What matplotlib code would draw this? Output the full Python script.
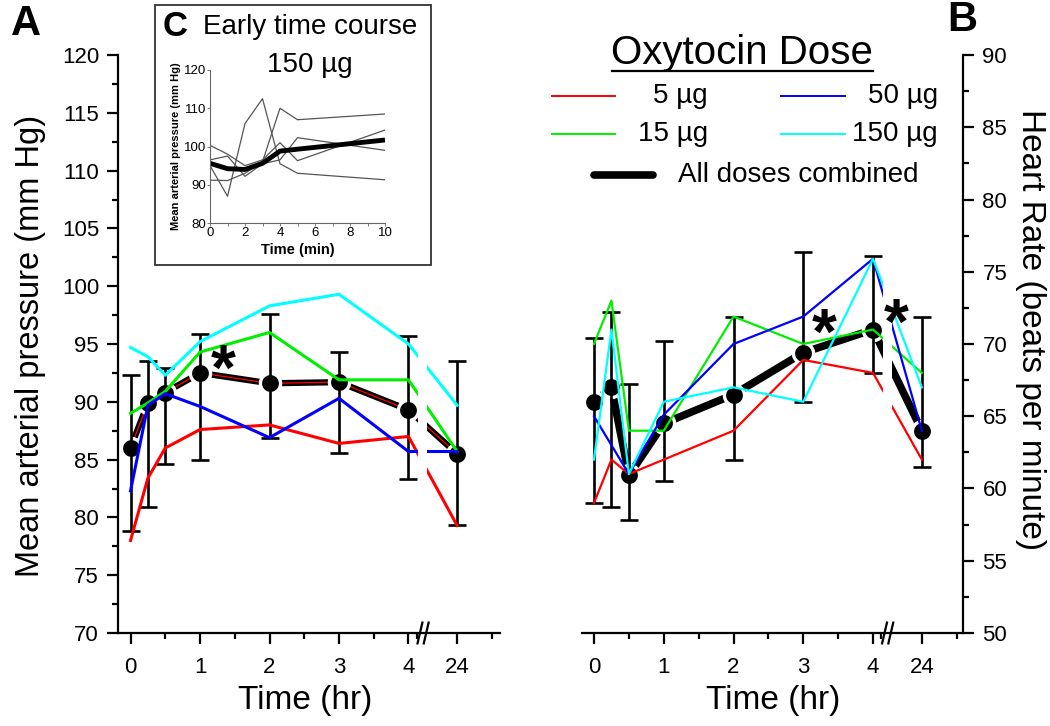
import matplotlib
matplotlib.use('Agg')
import matplotlib.pyplot as plt
from matplotlib.lines import Line2D
from matplotlib.patches import Rectangle
import numpy as np

plt.rcParams['font.family'] = ['Liberation Sans', 'DejaVu Sans']

# ---------------- data ----------------
time_hr = [0, 0.25, 0.5, 1, 2, 3, 4, 24]
xtick_hr = [0, 1, 2, 3, 4, 24]
dose_labels = ['5 µg', '15 µg', '50 µg', '150 µg']
dose_colors = ['#ff0000', '#00ee00', '#0000ff', '#00ffff']

# Mean arterial pressure (mm Hg)
map_5 = [78.0, 83.4, 86.0, 87.6, 88.0, 86.4, 87.0, 79.3]
map_15 = [89.0, 89.9, 90.9, 94.3, 96.0, 91.9, 91.9, 85.7]
map_50 = [82.3, 89.7, 90.7, 89.6, 86.9, 90.3, 85.7, 85.7]
map_150 = [94.7, 93.9, 92.3, 95.2, 98.3, 99.3, 95.0, 89.7]
map_all = [86.0, 89.9, 90.8, 92.5, 91.6, 91.7, 89.3, 85.5]
map_lo = [78.8, 80.9, 84.6, 85.0, 86.9, 85.6, 83.3, 79.3]
map_hi = [92.3, 93.5, 92.9, 95.9, 97.6, 94.3, 95.7, 93.5]

# Heart rate (beats per minute)
hr_5 = [59.0, 62.0, 61.0, 62.0, 64.0, 68.9, 68.0, 62.0]
hr_15 = [70.0, 73.0, 64.0, 64.0, 71.9, 70.0, 71.0, 68.0]
hr_50 = [65.0, 63.0, 61.0, 65.1, 70.0, 71.9, 75.9, 64.0]
hr_150 = [62.0, 71.0, 61.0, 66.0, 67.0, 66.0, 75.9, 67.0]
hr_all = [66.0, 67.0, 60.9, 64.5, 66.5, 69.4, 71.0, 64.0]
hr_lo = [59.0, 58.75, 57.8, 60.5, 62.0, 66.0, 68.0, 61.5]
hr_hi = [70.4, 72.2, 67.2, 70.2, 71.9, 76.4, 76.1, 71.9]

# significance marks (time, value)
map_sig = [(1.33, 93.8)]
hr_sig = [(3.3, 71.5), (4.33, 72.2)]

# Inset C: early time course, 150 µg
inset_min = [0, 1, 2, 3, 4, 5, 10]
inset_a = [91.2, 91.1, 93.0, 96.0, 110.0, 107.0, 108.5]
inset_b = [95.0, 87.0, 106.0, 112.5, 95.5, 93.0, 91.3]
inset_c = [100.3, 98.0, 95.0, 96.5, 101.0, 96.3, 104.3]
inset_d = [96.5, 97.5, 92.2, 95.5, 96.5, 102.3, 99.0]
inset_mean = [95.6, 94.2, 94.0, 95.6, 98.8, 99.3, 101.7]


# ---------------- helpers ----------------
def pos(t):
    """broken time axis: 24 h is drawn just after the break following 4 h"""
    return t if t <= 4 else 4.7


xs = [pos(t) for t in time_hr]
W, H = 1050, 726


def fx(px):
    return px / W


def fy(py):
    return 1 - py / H


fig = plt.figure(figsize=(10.5, 7.26), dpi=100)
axL = fig.add_axes([fx(118.5), fy(633), fx(500) - fx(118.5), fy(55) - fy(633)])
axR = fig.add_axes([fx(582), fy(633), fx(963) - fx(582), fy(55) - fy(633)])


def panel(ax, series, mean, lo, hi, lw_col, lw_all, red_core, xlab_x):
    mean = np.array(mean)
    ax.plot(xs, mean, color='k', lw=lw_all, zorder=3, solid_capstyle='butt',
            solid_joinstyle='miter')
    if red_core:
        ax.plot(xs, mean, color='#ff0000', lw=0.9, zorder=3.1)
    ax.plot(xs, mean, ls='none', marker='o', ms=14.5, mfc='k', mec='white',
            mew=2.4, zorder=3.2)
    ax.errorbar(xs, mean, yerr=[mean - np.array(lo), np.array(hi) - mean],
                fmt='none', ecolor='k', elinewidth=1.9, capsize=6.5,
                capthick=1.9, zorder=3.5)
    for vals, c in zip(series, dose_colors):
        ax.plot(xs, vals, color=c, lw=lw_col, zorder=4)
    # white gap through the lines at the axis break
    ax.axvspan(4.14, 4.27, ymin=0.012, ymax=1, color='white', lw=0, zorder=5)
    # break marks
    tr = ax.get_xaxis_transform()
    for c in (4.165, 4.255):
        ax.plot([c - 0.035, c + 0.035], [-0.018, 0.018], color='k', lw=1.6,
                transform=tr, clip_on=False, zorder=6)
    ax.set_xticks([pos(t) for t in xtick_hr])
    ax.set_xticklabels([str(t) for t in xtick_hr])
    ax.set_xticks([0.5, 1.5, 2.5, 3.5, 4.12, 5.2], minor=True)
    ax.tick_params(which='major', direction='out', length=8, width=1.6,
                   labelsize=16, pad=6)
    ax.tick_params(which='minor', direction='out', length=4.5, width=1.6)
    ax.tick_params(axis='x', pad=9)
    for s in ax.spines.values():
        s.set_linewidth(1.6)
    ax.set_xlabel('Time (hr)', fontsize=24)
    ax.xaxis.set_label_coords(xlab_x, -0.09)


panel(axL, [map_5, map_15, map_50, map_150], map_all, map_lo, map_hi,
      2.2, 4.5, True, 0.49)
axL.set_xlim(-0.173, 5.317)
axL.set_ylim(70, 120)
axL.set_yticks(np.arange(70, 121, 5))
axL.set_yticks(np.arange(72.5, 120, 5), minor=True)
axL.spines['top'].set_visible(False)
axL.spines['right'].set_visible(False)
axL.set_ylabel('Mean arterial pressure (mm Hg)', fontsize=23.5)
axL.yaxis.set_label_coords(-0.19, 0.497)

panel(axR, [hr_5, hr_15, hr_50, hr_150], hr_all, hr_lo, hr_hi,
      1.6, 5.5, False, 0.502)
axR.set_xlim(-0.172, 5.29)
axR.set_ylim(50, 90)
axR.set_yticks(np.arange(50, 91, 5))
axR.set_yticks(np.arange(52.5, 90, 5), minor=True)
axR.spines['top'].set_visible(False)
axR.spines['left'].set_visible(False)
axR.yaxis.tick_right()
axR.yaxis.set_label_position('right')
axR.set_ylabel('Heart Rate (beats per minute)', fontsize=24, rotation=270,
               va='center')
axR.yaxis.set_label_coords(1.176, 0.525)

fs_star = 46
for ax, sig in ((axL, map_sig), (axR, hr_sig)):
    for t, v in sig:
        ax.annotate('*', (t, v), xytext=(0, -0.5 * fs_star),
                    textcoords='offset points', ha='center', va='baseline',
                    fontsize=fs_star, fontweight='bold', zorder=7)

# ---------------- legend ----------------
fig.text(fx(742), fy(53), 'Oxytocin Dose', fontsize=29, ha='center',
         va='center')
fig.add_artist(Line2D([fx(612), fx(873)], [fy(71), fy(71)], color='k', lw=1.6))
key_x = [(552, 615, 708), (781, 845, 938)]
for i, (lab, col) in enumerate(zip(dose_labels, dose_colors)):
    colx = i // 2
    row_y = [95.7, 134][i % 2]
    x0, x1, xt = key_x[colx]
    fig.add_artist(Line2D([fx(x0), fx(x1)], [fy(row_y)] * 2, color=col, lw=1.4))
    fig.text(fx(xt), fy(row_y), lab, fontsize=20, ha='right', va='center')
fig.add_artist(Line2D([fx(594), fx(653)], [fy(175)] * 2, color='k', lw=5.5,
                      solid_capstyle='round'))
fig.text(fx(678), fy(175), 'All doses combined', fontsize=20, ha='left',
         va='center')

# panel letters
fig.text(fx(26), fy(24), 'A', fontsize=30, fontweight='bold', ha='center',
         va='center')
fig.text(fx(962), fy(20), 'B', fontsize=30, fontweight='bold', ha='center',
         va='center')

# ---------------- inset C ----------------
fig.add_artist(Rectangle((fx(155), fy(265)), fx(431) - fx(155),
                         fy(5) - fy(265), fill=False, ec='#333333', lw=1.3))
axI = fig.add_axes([fx(210), fy(223), fx(385) - fx(210), fy(70) - fy(223)])
for vals in (inset_a, inset_b, inset_c, inset_d):
    axI.plot(inset_min, vals, color='#555555', lw=0.9)
axI.plot(inset_min, inset_mean, color='k', lw=3.5, solid_capstyle='butt')
axI.set_xlim(0, 10)
axI.set_ylim(80, 120)
axI.set_xticks(range(0, 11, 2))
axI.set_xticks(range(1, 10, 2), minor=True)
axI.set_yticks(range(80, 121, 10))
axI.spines['top'].set_visible(False)
axI.spines['right'].set_visible(False)
for s in ('left', 'bottom'):
    axI.spines[s].set_color('#666666')
    axI.spines[s].set_linewidth(0.8)
axI.tick_params(which='both', direction='out', length=2, width=0.6,
                color='#666666', labelsize=9.5, pad=1)
axI.set_xlabel('Time (min)', fontsize=10.5, fontweight='bold', labelpad=3)
axI.set_ylabel('Mean arterial pressure (mm Hg)', fontsize=8,
               fontweight='bold', labelpad=2)
fig.text(fx(175), fy(27), 'C', fontsize=25, fontweight='bold', ha='center',
         va='center')
fig.text(fx(310), fy(27), 'Early time course', fontsize=20, ha='center',
         va='center')
fig.text(fx(310), fy(65), '150 µg', fontsize=20, ha='center', va='center')

fig.savefig('out.png', dpi=100)
